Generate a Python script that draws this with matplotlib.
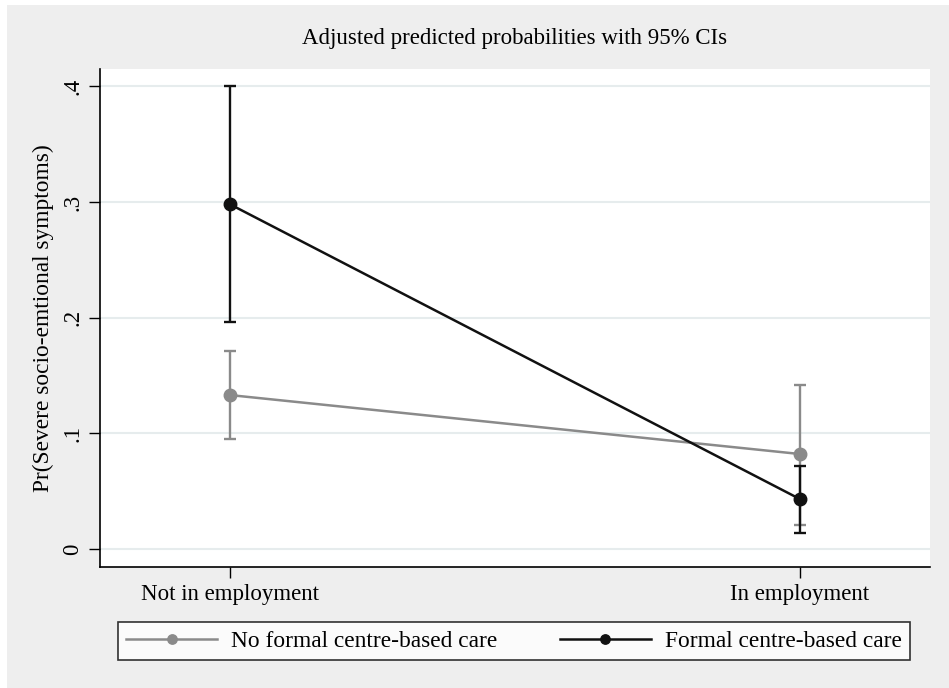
import numpy as np
import matplotlib.pyplot as plt
from matplotlib.patches import Rectangle

plt.rcParams['font.family'] = ['Liberation Serif', 'DejaVu Serif']

groups = ["Not in employment", "In employment"]
no_formal = [0.133, 0.082]
no_formal_lo = [0.095, 0.021]
no_formal_hi = [0.171, 0.142]
formal = [0.298, 0.043]
formal_lo = [0.196, 0.014]
formal_hi = [0.400, 0.072]

fig = plt.figure(figsize=(9.49, 6.88), dpi=100, facecolor='white')
fig.patches.append(Rectangle((7 / 949, 0), 1, 1 - 5 / 688, transform=fig.transFigure,
                             facecolor='#eeeeee', edgecolor='none', zorder=-10))
ax = fig.add_axes([100 / 949, 1 - 567 / 688, 830 / 949, 498 / 688])
ax.set_facecolor('white')

x = np.arange(len(groups))
gray = '#8a8a8a'
black = '#111111'

def draw(vals, lo, hi, color, label):
    vals = np.array(vals)
    err = [vals - np.array(lo), np.array(hi) - vals]
    ax.errorbar(x, vals, yerr=err, fmt='none', ecolor=color, elinewidth=1.7,
                capsize=4.5, capthick=1.7, zorder=3)
    ax.plot(x, vals, color=color, lw=1.8, marker='o', ms=9, label=label, zorder=4)

draw(no_formal, no_formal_lo, no_formal_hi, gray, "No formal centre-based care")
draw(formal, formal_lo, formal_hi, black, "Formal centre-based care")

ax.set_xlim(-0.228, 1.228)
ax.set_ylim(-0.0157, 0.415)
ax.set_yticks([0, 0.1, 0.2, 0.3, 0.4])
ax.set_yticklabels(['0', '.1', '.2', '.3', '.4'], rotation=90, va='center')
ax.set_xticks(x)
ax.set_xticklabels(groups)
ax.tick_params(labelsize=16.5, length=8, width=1, color='black', pad=4)
ax.grid(axis='y', color='#e6eced', lw=1.5)
ax.set_axisbelow(True)
for s in ['top', 'right']:
    ax.spines[s].set_visible(False)
for s in ['left', 'bottom']:
    ax.spines[s].set_linewidth(1.2)

ax.set_ylabel("Pr(Severe socio-emtional symptoms)", fontsize=16.8, labelpad=6)
ax.set_title("Adjusted predicted probabilities with 95% CIs", fontsize=16.5, pad=18)

leg = fig.legend(loc='lower left', bbox_to_anchor=(118 / 949, 1 - 660 / 688, 792 / 949, 43 / 688),
                 mode='expand', ncol=2, fontsize=16.8, frameon=True, fancybox=False,
                 edgecolor='black', handlelength=3.9, handletextpad=0.6, borderpad=0.35,
                 borderaxespad=0, markerscale=0.75)
leg.get_frame().set_linewidth(1.2)

fig.savefig('out.png', dpi=100, facecolor=fig.get_facecolor())
